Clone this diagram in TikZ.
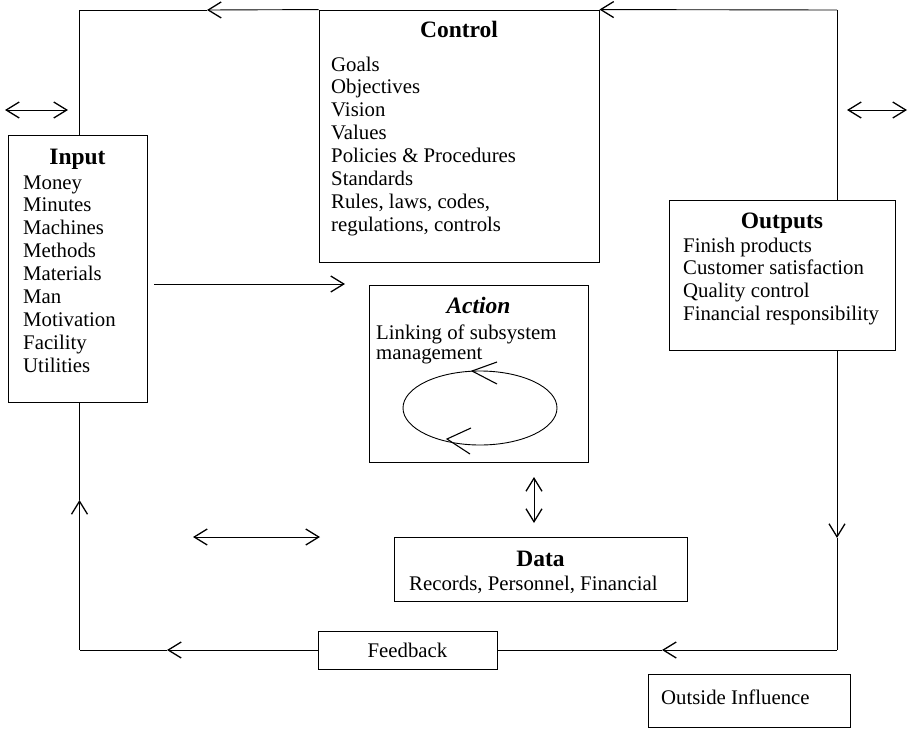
\documentclass[tikz,border=0pt]{standalone}
\usepackage{fontspec}
\setmainfont{Liberation Serif}
\usetikzlibrary{arrows.meta,shapes.geometric}
\newcommand\bodyfont{\fontsize{20.8}{22.9}\selectfont}
\newcommand\titlefont{\fontsize{23.5}{26}\selectfont\bfseries}
\begin{document}
\begin{tikzpicture}[x=1pt,y=-1pt,
  box/.style={draw, line width=0.9pt, inner sep=0pt},
  item/.style={anchor=base west, inner sep=0pt, font=\bodyfont},
  title/.style={anchor=base, inner sep=0pt, font=\titlefont},
  line/.style={line width=0.9pt},
  tip/.style={Straight Barb[length=13pt,width=16pt,line width=1.3pt]},
  arr/.style={line, -{Straight Barb[length=13pt,width=16pt,line width=1.3pt]}},
  darr/.style={line, {Straight Barb[length=13pt,width=16pt,line width=1.3pt]}-{Straight Barb[length=13pt,width=16pt,line width=1.3pt]}},
]
\useasboundingbox (0,0) rectangle (914,729);

% boxes
\node[box, minimum width=280pt, minimum height=252pt] (control) at (459,136) {};
\node[box, minimum width=139pt, minimum height=267pt] (input) at (77.5,268.5) {};
\node[box, minimum width=226pt, minimum height=150pt] (outputs) at (782,275) {};
\node[box, minimum width=219pt, minimum height=177pt] (action) at (478.5,373.5) {};
\node[box, minimum width=293pt, minimum height=64pt] (data) at (540.5,569) {};
\node[box, minimum width=179pt, minimum height=38pt] (feedback) at (407.5,650) {};
\node[box, minimum width=202pt, minimum height=53pt] (outside) at (749,700.5) {};

% texts
\node[title] (controlT) at (459,37) {Control};
\foreach \t [count=\i] in {Goals,Objectives,Vision,Values,Policies \& Procedures,Standards,{Rules, laws, codes,},{regulations, controls}}
  \node[item] (ctl\i) at (331,{71+22.9*(\i-1)}) {\t};

\node[title] (inputT) at (77.5,164) {Input};
\foreach \t [count=\i] in {Money,Minutes,Machines,Methods,Materials,Man,Motivation,Facility,Utilities}
  \node[item] (inp\i) at (23,{189+22.9*(\i-1)}) {\t};

\node[title] (outputsT) at (782,228) {Outputs};
\foreach \t [count=\i] in {Finish products,Customer satisfaction,Quality control,Financial responsibility}
  \node[item] (out\i) at (683,{252+22.9*(\i-1)}) {\t};

\node[title, font=\titlefont\itshape] (actionT) at (478.5,313) {Action};
\node[item] (act1) at (376,339) {Linking of subsystem};
\node[item] (act2) at (376,359) {management};

\node[title] (dataT) at (540.5,566) {Data};
\node[item] (data1) at (409,590) {Records, Personnel, Financial};

\node[item, anchor=base] (fbT) at (407.5,657) {Feedback};
\node[item] (outsideT) at (661,704) {Outside Influence};

% cycle in action box
\node[draw, line width=0.9pt, ellipse, minimum width=154pt, minimum height=74pt, inner sep=0pt] (cycle) at (480,408) {};
\draw[line, line width=1.1pt] (497,362) -- (472,371) -- (497,384);
\draw[line, line width=1.1pt] (471,428) -- (447,439) -- (470,454);

% loop corners
\coordinate (TL) at (79.5,10);
\coordinate (TR) at (837,10);
\coordinate (BL) at (79.5,650);
\coordinate (BR) at (837,650);
\coordinate (mTop) at (207,10);
\coordinate (mLeft) at (79.5,500);
\coordinate (mBotL) at (167,650);
\coordinate (mBotR) at (662,650);
\coordinate (mRight) at (837,538);

\draw[line] (outputs.north -| TR) -- (TR);
\draw[arr] (TR) -- (control.north east);
\draw[arr] (control.north west) -- (mTop);
\draw[line] (mTop) -- (TL) -- (input.north -| TL);
\draw[arr] (BL) -- (mLeft);
\draw[line] (mLeft) -- (input.south -| BL);
\draw[arr] (feedback.west) -- (mBotL);
\draw[line] (mBotL) -- (BL);
\draw[arr] (BR) -- (mBotR);
\draw[line] (mBotR) -- (feedback.east);
\draw[arr] (outputs.south -| BR) -- (mRight);
\draw[line] (mRight) -- (BR);

% input to action
\coordinate (ia1) at (154,284);
\coordinate (ia2) at (345,284);
\draw[arr] (ia1) -- (ia2);

% double arrows
\coordinate (dl1) at (5,110);
\coordinate (dl2) at (68,110);
\draw[darr] (dl1) -- (dl2);
\coordinate (dr1) at (847,110);
\coordinate (dr2) at (907,110);
\draw[darr] (dr1) -- (dr2);
\coordinate (dm1) at (193,537);
\coordinate (dm2) at (320,537);
\draw[darr] (dm1) -- (dm2);
\coordinate (dv1) at (534,477);
\coordinate (dv2) at (534,523);
\draw[darr] (dv1) -- (dv2);
\end{tikzpicture}
\end{document}
